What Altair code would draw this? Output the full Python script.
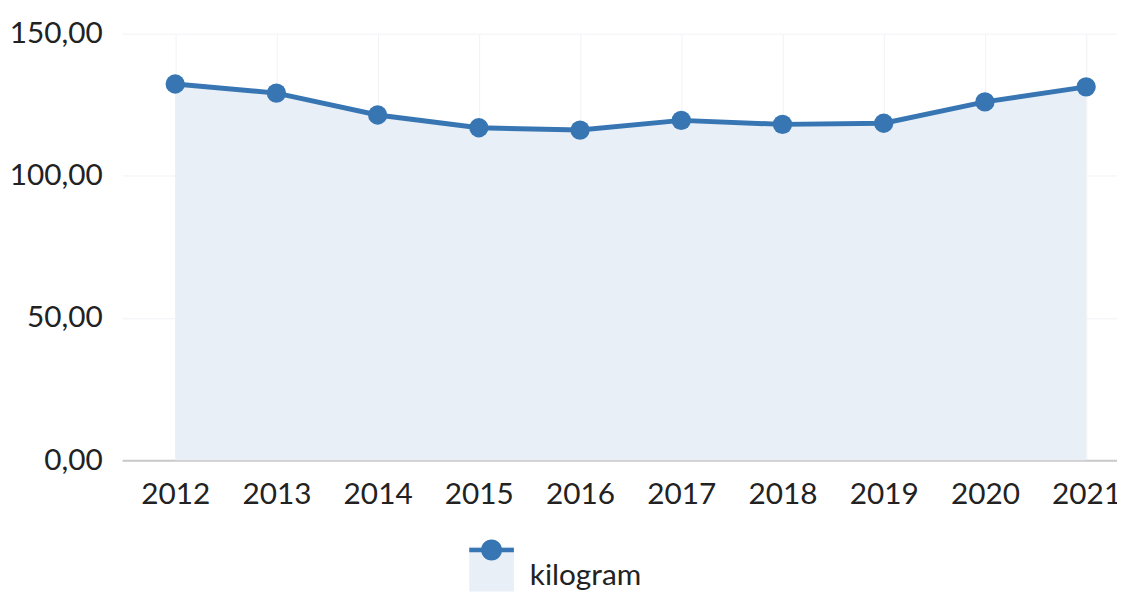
import altair as alt
import pandas as pd

years = [2012, 2013, 2014, 2015, 2016, 2017, 2018, 2019, 2020, 2021]
values = [132.3, 129.1, 121.4, 116.9, 116.1, 119.5, 118.1, 118.5, 126.0, 131.3]
series_name = "kilogram"
y_ticks = [0, 50, 100, 150]

LINE = "#3776b3"
AREA = "#e8eff7"
GRID = "#f1f2f5"
FONT = "Lato"

df = pd.DataFrame({
    "year": years,
    "value": values,
    "series": [series_name] * len(years),
    "series_line": [series_name] * len(years),
})

x = alt.X(
    "year:Q",
    scale=alt.Scale(domain=[2011.475, 2021.305], nice=False, zero=False),
    axis=alt.Axis(
        values=years, format="d", title=None, ticks=False,
        labelFont=FONT, labelFontSize=30, labelColor="#222222",
        labelPadding=20, labelFlush=False,
        domainColor="#c9c9c9", domainWidth=2,
        gridColor=GRID, gridWidth=1,
    ),
)
y = alt.Y(
    "value:Q",
    scale=alt.Scale(domain=[0, 150], nice=False),
    axis=alt.Axis(
        values=y_ticks, title=None, ticks=False, domain=False,
        labelExpr="replace(format(datum.value, '.2f'), '.', ',')",
        labelFont=FONT, labelFontSize=30, labelColor="#222222",
        labelPadding=20, gridColor=GRID, gridWidth=1,
    ),
)

SYM_SIZE = 45 * 45
area_symbol = "M-1,-1.3L1,-1.3L1,0.7L-1,0.7Z"
line_symbol = ("M-1,-1.25L1,-1.25L1,-1.05L-1,-1.05Z "
               "M-0.47,-1.15A0.47,0.47 0 1,1 0.47,-1.15A0.47,0.47 0 1,1 -0.47,-1.15Z")

area = alt.Chart(df).mark_area(opacity=1).encode(
    x=x, y=y,
    fill=alt.Fill(
        "series:N",
        scale=alt.Scale(range=[AREA]),
        legend=alt.Legend(
            title=None, orient="none", legendX=350, legendY=524, padding=0,
            symbolType=area_symbol, symbolSize=SYM_SIZE, symbolStrokeWidth=0,
            labelFont=FONT, labelFontSize=30, labelColor="#222222",
            labelOffset=16,
        ),
    ),
)

line = alt.Chart(df).mark_line(color=LINE, strokeWidth=5).encode(x=x, y=y)

points = alt.Chart(df).mark_point(filled=True, size=380, opacity=1).encode(
    x=x, y=y,
    color=alt.Color(
        "series_line:N",
        scale=alt.Scale(range=[LINE]),
        legend=alt.Legend(
            title=None, orient="none", legendX=350, legendY=524, padding=0,
            symbolType=line_symbol, symbolSize=SYM_SIZE, symbolStrokeWidth=0,
            symbolOpacity=1,
            labelExpr="''", labelFontSize=30, labelOffset=16,
        ),
    ),
)

chart = (
    alt.layer(area, line, points)
    .resolve_scale(color="independent", fill="independent")
    .properties(
        width=1003, height=430,
        padding={"left": 115, "top": 23.5, "right": 0, "bottom": 131},
        autosize=alt.AutoSizeParams(type="none"),
        background="white",
    )
    .configure_view(stroke=None)
)

chart.save("out.html", embed_options={"renderer": "svg", "actions": False})
